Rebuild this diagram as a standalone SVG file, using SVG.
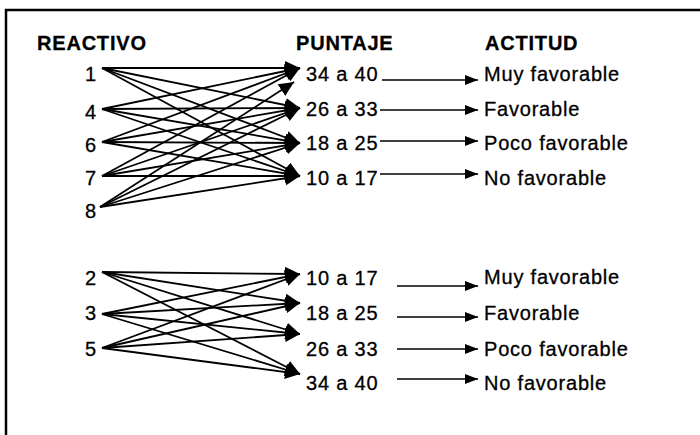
<svg xmlns="http://www.w3.org/2000/svg" width="700" height="435" viewBox="0 0 700 435">
  <defs>
    <style>
      .t { font-family: "Liberation Sans", Arial, sans-serif; font-size: 20px; letter-spacing: 0.8px; fill: #000; stroke: #000; stroke-width: 0.3; }
      .h { font-weight: bold; }
      .link { stroke: #000; stroke-width: 1.8; fill: none; marker-end: url(#bigHead); }
      .out { stroke: #000; stroke-width: 1.6; fill: none; marker-end: url(#smallHead); }
      .frame { stroke: #000; stroke-width: 2.5; fill: none; }
    </style>
    <marker id="bigHead" markerUnits="userSpaceOnUse" markerWidth="16" markerHeight="14" refX="15" refY="7" orient="auto">
      <path d="M0,0 L15,7 L0,14 z" fill="#000"/>
    </marker>
    <marker id="smallHead" markerUnits="userSpaceOnUse" markerWidth="14" markerHeight="12" refX="13" refY="5" orient="auto">
      <path d="M0,0 L13,5 L0,10 z" fill="#000"/>
    </marker>
  </defs>
  <rect width="700" height="435" fill="#fff"/>

  <!-- open frame: top and left edges -->
  <path class="frame" d="M6,435 L6,10 L700,10"/>

  <!-- column headings -->
  <g id="headings">
    <text class="t h" x="37" y="50">REACTIVO</text>
    <text class="t h" x="296" y="50">PUNTAJE</text>
    <text class="t h" x="485" y="50">ACTITUD</text>
  </g>

  <!-- connectors -->
  <g id="connectors">
    <!-- upper block: items 1,4,6,7,8 to every score range -->
    <line class="link" x1="102" y1="68" x2="300" y2="68"/>
    <line class="link" x1="102" y1="68" x2="300" y2="108"/>
    <line class="link" x1="102" y1="68" x2="300" y2="143"/>
    <line class="link" x1="102" y1="68" x2="300" y2="176"/>

    <line class="link" x1="102" y1="109" x2="300" y2="68"/>
    <line class="link" x1="102" y1="109" x2="300" y2="108"/>
    <line class="link" x1="102" y1="109" x2="300" y2="143"/>
    <line class="link" x1="102" y1="109" x2="300" y2="176"/>

    <line class="link" x1="102" y1="142" x2="300" y2="68"/>
    <line class="link" x1="102" y1="142" x2="300" y2="108"/>
    <line class="link" x1="102" y1="142" x2="300" y2="143"/>
    <line class="link" x1="102" y1="142" x2="300" y2="176"/>

    <line class="link" x1="102" y1="176" x2="300" y2="68"/>
    <line class="link" x1="102" y1="176" x2="300" y2="108"/>
    <line class="link" x1="102" y1="176" x2="300" y2="143"/>
    <line class="link" x1="102" y1="176" x2="300" y2="176"/>

    <line class="link" x1="100" y1="207" x2="294" y2="82"/>
    <line class="link" x1="100" y1="207" x2="300" y2="108"/>
    <line class="link" x1="100" y1="207" x2="300" y2="143"/>
    <line class="link" x1="100" y1="207" x2="300" y2="176"/>

    <!-- upper block: score range to attitude -->
    <line class="out" x1="382" y1="80" x2="478" y2="80"/>
    <line class="out" x1="380" y1="110" x2="478" y2="110"/>
    <line class="out" x1="380" y1="141" x2="478" y2="141"/>
    <line class="out" x1="380" y1="174" x2="478" y2="174"/>

    <!-- lower block: items 2,3,5 to every score range -->
    <line class="link" x1="102" y1="272" x2="300" y2="274"/>
    <line class="link" x1="102" y1="272" x2="300" y2="303"/>
    <line class="link" x1="102" y1="272" x2="300" y2="334"/>
    <line class="link" x1="102" y1="272" x2="300" y2="374"/>

    <line class="link" x1="102" y1="314" x2="300" y2="274"/>
    <line class="link" x1="102" y1="314" x2="300" y2="303"/>
    <line class="link" x1="102" y1="314" x2="300" y2="334"/>
    <line class="link" x1="102" y1="314" x2="300" y2="374"/>

    <line class="link" x1="102" y1="348" x2="300" y2="274"/>
    <line class="link" x1="102" y1="348" x2="300" y2="303"/>
    <line class="link" x1="102" y1="348" x2="300" y2="334"/>
    <line class="link" x1="102" y1="348" x2="300" y2="374"/>

    <!-- lower block: score range to attitude -->
    <line class="out" x1="397" y1="286" x2="478" y2="286"/>
    <line class="out" x1="397" y1="317" x2="478" y2="317"/>
    <line class="out" x1="397" y1="349" x2="478" y2="349"/>
    <line class="out" x1="397" y1="379" x2="478" y2="379"/>
  </g>

  <!-- item numbers -->
  <g id="item-1"><text class="t" x="97" y="81" text-anchor="end">1</text></g>
  <g id="item-4"><text class="t" x="97" y="119" text-anchor="end">4</text></g>
  <g id="item-6"><text class="t" x="97" y="152" text-anchor="end">6</text></g>
  <g id="item-7"><text class="t" x="97" y="185" text-anchor="end">7</text></g>
  <g id="item-8"><text class="t" x="97" y="218" text-anchor="end">8</text></g>
  <g id="item-2"><text class="t" x="97" y="285" text-anchor="end">2</text></g>
  <g id="item-3"><text class="t" x="97" y="320" text-anchor="end">3</text></g>
  <g id="item-5"><text class="t" x="97" y="356" text-anchor="end">5</text></g>

  <!-- score ranges, upper block -->
  <g id="score-a-34-40"><text class="t" x="306" y="81">34 a 40</text></g>
  <g id="score-a-26-33"><text class="t" x="306" y="116">26 a 33</text></g>
  <g id="score-a-18-25"><text class="t" x="306" y="150">18 a 25</text></g>
  <g id="score-a-10-17"><text class="t" x="306" y="185">10 a 17</text></g>

  <!-- score ranges, lower block -->
  <g id="score-b-10-17"><text class="t" x="306" y="285">10 a 17</text></g>
  <g id="score-b-18-25"><text class="t" x="306" y="320">18 a 25</text></g>
  <g id="score-b-26-33"><text class="t" x="306" y="356">26 a 33</text></g>
  <g id="score-b-34-40"><text class="t" x="306" y="390">34 a 40</text></g>

  <!-- attitudes, upper block -->
  <g id="att-a-1"><text class="t" x="484" y="81">Muy favorable</text></g>
  <g id="att-a-2"><text class="t" x="484" y="116">Favorable</text></g>
  <g id="att-a-3"><text class="t" x="484" y="150">Poco favorable</text></g>
  <g id="att-a-4"><text class="t" x="484" y="185">No favorable</text></g>

  <!-- attitudes, lower block -->
  <g id="att-b-1"><text class="t" x="484" y="284">Muy favorable</text></g>
  <g id="att-b-2"><text class="t" x="484" y="320">Favorable</text></g>
  <g id="att-b-3"><text class="t" x="484" y="356">Poco favorable</text></g>
  <g id="att-b-4"><text class="t" x="484" y="390">No favorable</text></g>
</svg>
